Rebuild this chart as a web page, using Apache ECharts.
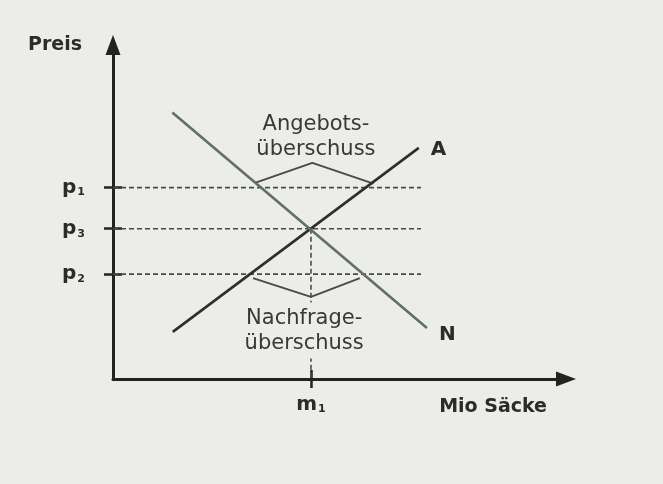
<!DOCTYPE html>
<html><head><meta charset="utf-8">
<script src="https://cdn.jsdelivr.net/npm/echarts@6/dist/echarts.min.js"></script>
<style>html,body{margin:0;padding:0;background:#ecece8;}#c{width:663px;height:484px;}</style>
</head><body><div id="c"></div>
<script>
// ---- values (arbitrary units: quantity on x, price on y) ----
const priceLevels = [5.73, 4.5, 3.14];        // p1, p3, p2
const priceSubscripts = ['1', '3', '2'];
const quantityEq = [4.37];                    // m1
const quantitySubscripts = ['1'];
const dashEnd = 6.8;                          // right end of the price guide lines
const demandN = [[1.31, 7.98], [6.93, 1.53]];
const supplyA = [[1.32, 1.41], [6.75, 6.92]];
const supplySurplusBracket = [[3.15, 5.88], [4.4, 6.47], [5.75, 5.85]];
const demandSurplusBracket = [[3.09, 3.02], [4.37, 2.46], [5.45, 3.02]];
const noteTexts = ['Angebots-\nüberschuss', 'Nachfrage-\nüberschuss'];
const notePositions = [[4.48, 7.25], [4.22, 1.45]];
const curveNames = ['A', 'N'];
const axisNames = ['Mio Säcke', 'Preis'];

const FONT = 'DejaVu Sans';
const INK = '#2b2b2b';
const BG = '#ecece8';

const chart = echarts.init(document.getElementById('c'), null, {renderer: 'canvas'});

function subLabel(letter, sub) {
  return '{m|' + letter + '}{s|' + sub + '}';
}
const richSub = {
  m: {fontSize: 20, fontWeight: 'bold', color: INK, fontFamily: FONT},
  s: {fontSize: 11, fontWeight: 'bold', color: INK, fontFamily: FONT, padding: [10, 0, 0, 1]}
};

const dashStyle = {color: '#4a4a4a', width: 1.6, type: [5, 3]};
const curveLabel = {fontSize: 20, fontWeight: 'bold', color: INK, fontFamily: FONT};

const series = [];
priceLevels.forEach(function (p) {
  series.push({type: 'line', silent: true, symbol: 'none', z: 2,
    data: [[0, p], [dashEnd, p]], lineStyle: dashStyle});
});
series.push({type: 'line', silent: true, symbol: 'none', z: 2,
  data: [[quantityEq[0], priceLevels[1]], [quantityEq[0], 0]], lineStyle: dashStyle});
series.push({type: 'line', silent: true, symbol: 'none', z: 3,
  data: supplySurplusBracket, lineStyle: {color: '#4a4a4a', width: 2}});
series.push({type: 'line', silent: true, symbol: 'none', z: 3,
  data: demandSurplusBracket, lineStyle: {color: '#4a4a4a', width: 2}});
series.push({type: 'line', silent: true, symbol: 'none', z: 4,
  data: supplyA, lineStyle: {color: '#2e2e2e', width: 2.6},
  endLabel: Object.assign({show: true, formatter: curveNames[0], distance: 12, offset: [0, 2]}, curveLabel)});
series.push({type: 'line', silent: true, symbol: 'none', z: 4,
  data: demandN, lineStyle: {color: '#5f6f6a', width: 2.6},
  endLabel: Object.assign({show: true, formatter: curveNames[1], distance: 12, offset: [0, 7]}, curveLabel)});

function axisBase(isX, outside) {
  return {
    type: 'value', min: 0, max: 10,
    splitLine: {show: false},
    axisLine: outside ? {show: true, onZero: false, symbol: ['none', 'triangle'], symbolSize: [15, 20],
      lineStyle: {color: '#222', width: 3}} : {show: false},
    axisTick: {show: true, inside: !outside, length: 9,
      customValues: isX ? quantityEq : priceLevels,
      lineStyle: {color: '#222', width: 2.5}},
    axisLabel: outside ? {
      show: true,
      customValues: isX ? quantityEq : priceLevels,
      margin: isX ? 15 : 28,
      formatter: function (v) {
        const vals = isX ? quantityEq : priceLevels;
        const subs = isX ? quantitySubscripts : priceSubscripts;
        const i = vals.findIndex(function (q) { return Math.abs(q - v) < 1e-6; });
        return subLabel(isX ? 'm' : 'p', subs[i < 0 ? 0 : i]);
      },
      rich: richSub
    } : {show: false}
  };
}

const x0 = axisBase(true, true);
x0.name = axisNames[0];
x0.nameLocation = 'end';
x0.nameGap = -19;
x0.nameTextStyle = {align: 'right', verticalAlign: 'top', padding: [19, 0, 0, 0],
  fontSize: 19, fontWeight: 'bold', color: INK, fontFamily: FONT};
const y0 = axisBase(false, true);
y0.name = axisNames[1];
y0.nameLocation = 'end';
y0.nameGap = 0;
y0.nameTextStyle = {align: 'right', verticalAlign: 'middle', padding: [0, 31, 0, 0],
  fontSize: 19, fontWeight: 'bold', color: INK, fontFamily: FONT};
const x1 = axisBase(true, false); x1.position = 'bottom';
const y1 = axisBase(false, false); y1.position = 'left';

chart.setOption({
  animation: false,
  backgroundColor: BG,
  grid: {left: 113, right: 97, top: 45, bottom: 105, containLabel: false, outerBoundsMode: 'none'},
  xAxis: [x0, x1],
  yAxis: [y0, y1],
  series: series
});

// annotation texts placed at data positions through the grid's coordinate conversion
const notes = noteTexts.map(function (t, i) {
  const pt = chart.convertToPixel({gridIndex: 0}, notePositions[i]);
  return {
    type: 'text', x: pt[0], y: pt[1], z: 100, silent: true,
    style: {
      text: t, align: 'center', verticalAlign: 'middle',
      font: '21px "DejaVu Sans"', lineHeight: 25, fill: '#383838',
      backgroundColor: i === 1 ? BG : null, padding: i === 1 ? [3, 6] : 0
    }
  };
});
chart.setOption({graphic: notes});
</script>
</body></html>
